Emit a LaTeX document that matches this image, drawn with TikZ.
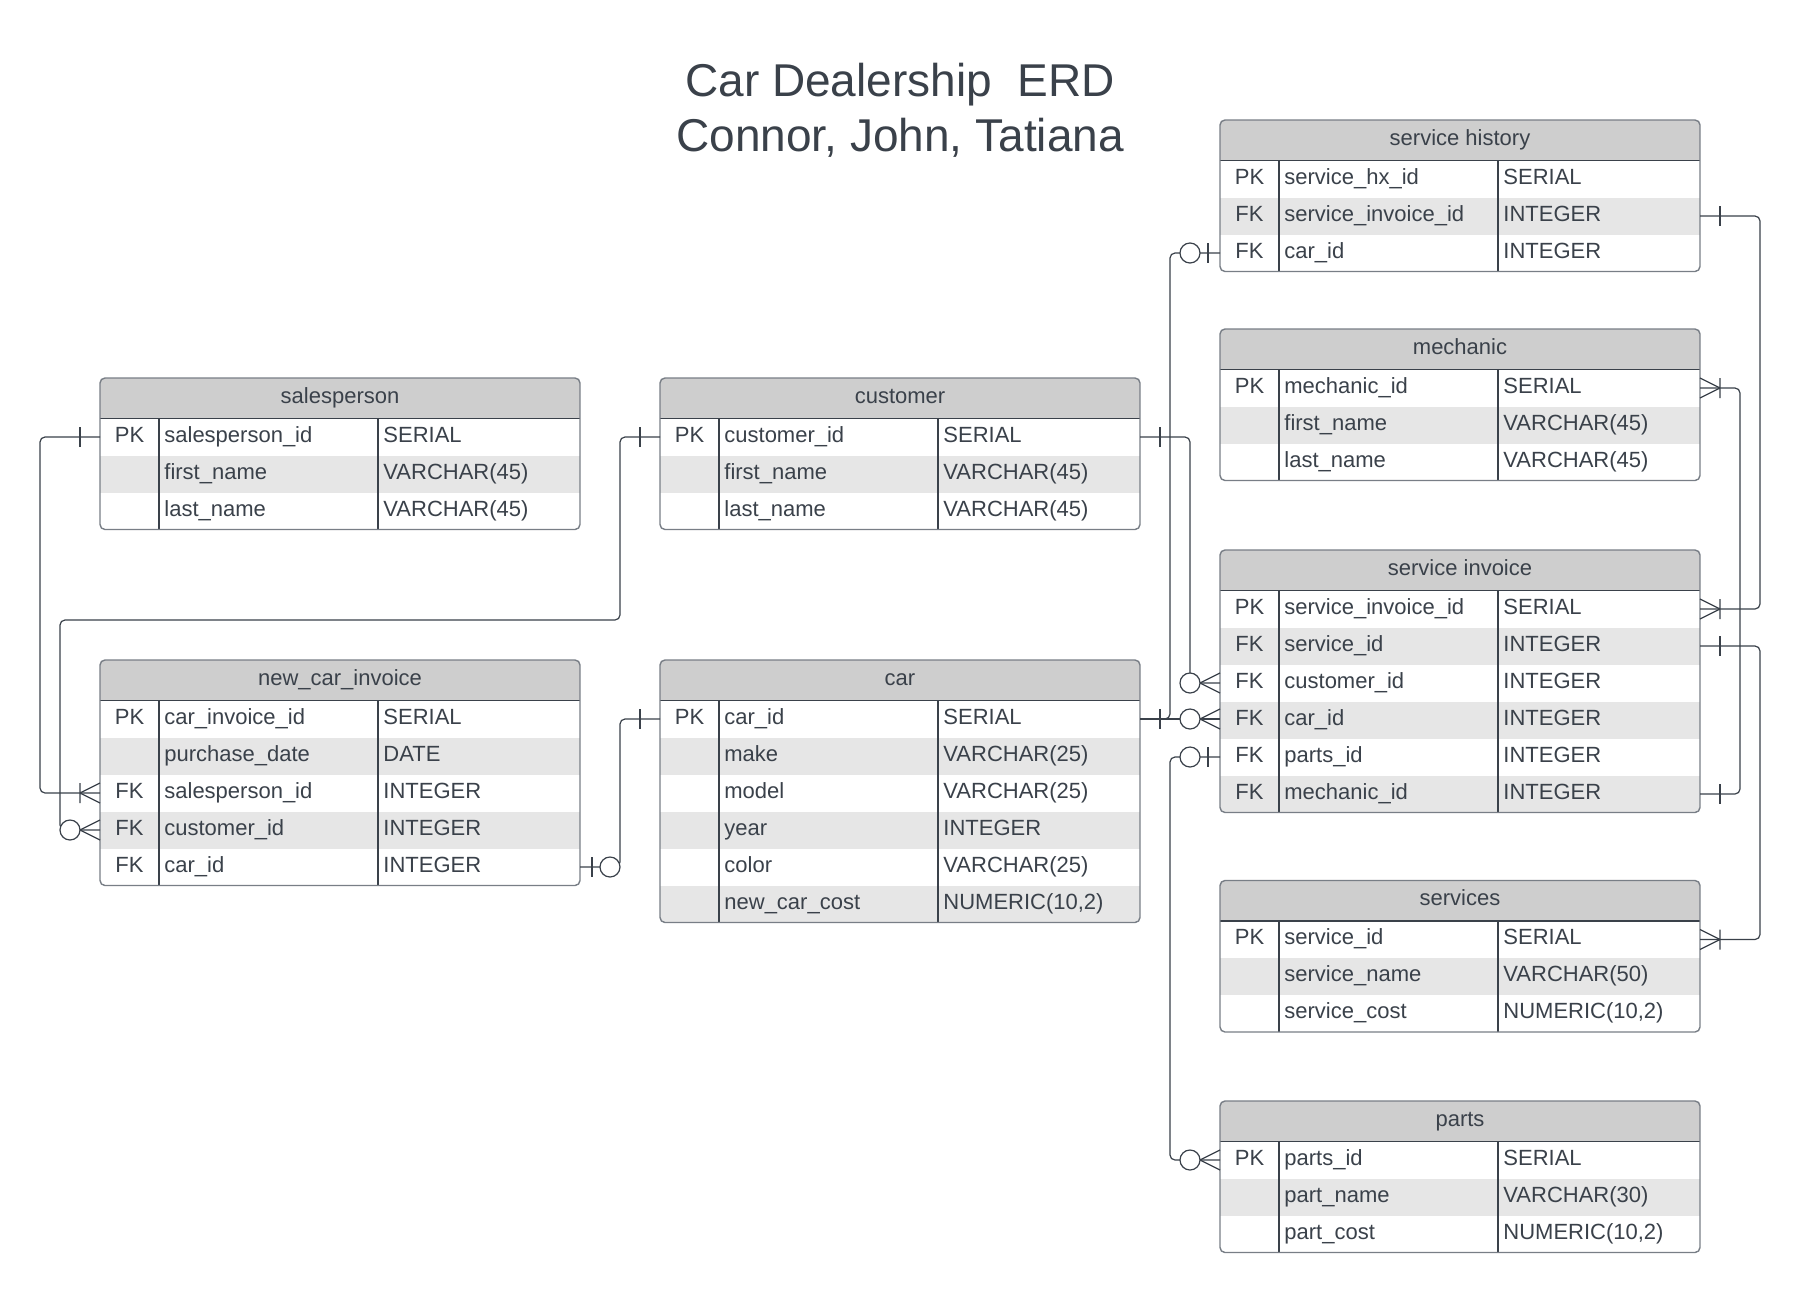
\documentclass[tikz,border=0pt]{standalone}
\usepackage{fontspec}
\setmainfont{Liberation Sans}
\usetikzlibrary{calc}

\definecolor{inkgray}{RGB}{58,65,74}
\definecolor{headgray}{RGB}{206,206,206}
\definecolor{rowgray}{RGB}{230,230,230}
\definecolor{edgegray}{RGB}{120,126,134}

% table: name, left, top, rows, title, fields
\newcommand{\erdtable}[6]{%
  \begin{scope}
    \clip[rounded corners=2.5pt] (#2,#3) rectangle ++(480,{40.5+37*#4});
    \node[head node] (#1-h) at (#2,#3) {};
    \node[cell text, anchor=base] (#1-title) at ([yshift=-2.6pt]#1-h.center) {#5};
    \foreach \k/\n/\t [count=\i] in {#6} {
      \ifodd\i\relax\def\rowcol{white}\else\def\rowcol{rowgray}\fi
      \node[row node, fill=\rowcol] (#1-\i) at (#2,{#3+40.5+37*(\i-1)}) {};
      \node[cell text, anchor=base] (#1-\i-key) at ([xshift=14.75pt,yshift=-2.6pt]#1-\i.west) {\k};
      \node[cell text, anchor=base west] (#1-\i-name) at ([xshift=32pt,yshift=-2.6pt]#1-\i.west) {\n};
      \node[cell text, anchor=base west] (#1-\i-type) at ([xshift=141.5pt,yshift=-2.6pt]#1-\i.west) {\t};
    }
  \end{scope}
  \draw[inner line] (#1-h.south west) -- (#1-h.south east);
  \draw[inner line] ([xshift=29.5pt]#1-1.north west) -- ([xshift=29.5pt]#1-#4.south west);
  \draw[inner line] ([xshift=139pt]#1-1.north west) -- ([xshift=139pt]#1-#4.south west);
  \draw[table edge] (#2,#3) rectangle ++(480,{40.5+37*#4});
}

\begin{document}
\begin{tikzpicture}[x=0.5pt, y=-0.5pt,
  head node/.style={anchor=north west, fill=headgray, inner sep=0pt, outer sep=0pt,
    minimum width=240pt, minimum height=20.25pt},
  row node/.style={anchor=north west, inner sep=0pt, outer sep=0pt, minimum width=240pt, minimum height=18.5pt},
  cell text/.style={inner sep=0pt, text=inkgray, font=\fontsize{11}{13}\selectfont},
  title text/.style={anchor=base, text=inkgray, inner sep=0pt, font=\fontsize{23}{27}\selectfont},
  inner line/.style={draw=inkgray, line width=0.6pt},
  table edge/.style={draw=edgegray, line width=0.7pt, rounded corners=2.5pt},
  link/.style={draw=inkgray, line width=0.6pt, rounded corners=2.5pt},
  one end/.pic={\draw[link] (-20,-10) -- (-20,10);},
  one many end/.pic={\draw[link] (-20,-10) -- (-20,10) (-20,0) -- (0,-10) (-20,0) -- (0,10);},
  zero many end/.pic={\draw[link] (-20,0) -- (0,-10) (-20,0) -- (0,10);
    \draw[link, fill=white] (-30,0) circle[radius=10];},
  zero one end/.pic={\draw[link] (-12,-10) -- (-12,10);
    \draw[link, fill=white] (-30,0) circle[radius=10];}]
\path[use as bounding box, fill=white] (0,0) rectangle (1800,1291);

% title
\node[title text] (title1) at (900,96) {Car Dealership\ \ ERD};
\node[title text] (title2) at (900,151) {Connor, John, Tatiana};

% sales side
\erdtable{sp}{100}{378}{3}{salesperson}{PK/salesperson\_id/SERIAL, /first\_name/VARCHAR(45), /last\_name/VARCHAR(45)}
\erdtable{cu}{660}{378}{3}{customer}{PK/customer\_id/SERIAL, /first\_name/VARCHAR(45), /last\_name/VARCHAR(45)}
\erdtable{nci}{100}{660}{5}{new\_car\_invoice}{PK/car\_invoice\_id/SERIAL, /purchase\_date/DATE, FK/salesperson\_id/INTEGER, FK/customer\_id/INTEGER, FK/car\_id/INTEGER}
\erdtable{car}{660}{660}{6}{car}{PK/car\_id/SERIAL, /make/VARCHAR(25), /model/VARCHAR(25), /year/INTEGER, /color/VARCHAR(25), /new\_car\_cost/{NUMERIC(10,2)}}

% service side
\erdtable{sh}{1220}{120}{3}{service history}{PK/service\_hx\_id/SERIAL, FK/service\_invoice\_id/INTEGER, FK/car\_id/INTEGER}
\erdtable{mech}{1220}{329}{3}{mechanic}{PK/mechanic\_id/SERIAL, /first\_name/VARCHAR(45), /last\_name/VARCHAR(45)}
\erdtable{si}{1220}{550}{6}{service invoice}{PK/service\_invoice\_id/SERIAL, FK/service\_id/INTEGER, FK/customer\_id/INTEGER, FK/car\_id/INTEGER, FK/parts\_id/INTEGER, FK/mechanic\_id/INTEGER}
\erdtable{sv}{1220}{880.5}{3}{services}{PK/service\_id/SERIAL, /service\_name/VARCHAR(50), /service\_cost/{NUMERIC(10,2)}}
\erdtable{pt}{1220}{1101}{3}{parts}{PK/parts\_id/SERIAL, /part\_name/VARCHAR(30), /part\_cost/{NUMERIC(10,2)}}

% links, left
\draw[link] (sp-1.west) -- ++(-60,0) |- (nci-3.west);
\draw[link] (cu-1.west) -- ++(-40,0) |- (60,620) |- (nci-4.west);
\draw[link] (car-1.west) -- ++(-40,0) |- (nci-5.east);
\pic at (sp-1.west) {one end};
\pic at (nci-3.west) {one many end};
\pic at (cu-1.west) {one end};
\pic at (nci-4.west) {zero many end};
\pic at (car-1.west) {one end};
\pic[xscale=-1] at (nci-5.east) {zero one end};

% links, middle
\draw[link] (car-1.east) -- ++(30,0) |- (sh-3.west);
\draw[link] (car-1.east) -- (car-1.east -| si-4.west);
\draw[link] (cu-1.east) -- ++(50,0) |- (si-3.west);
\draw[link] (si-5.west) -- ++(-50,0) |- (pt-1.west);
\pic[xscale=-1] at (car-1.east) {one end};
\pic[xscale=-1] at (cu-1.east) {one end};
\pic at (sh-3.west) {zero one end};
\pic at (car-1.east -| si-4.west) {zero many end};
\pic at (si-3.west) {zero many end};
\pic at (si-5.west) {zero one end};
\pic at (pt-1.west) {zero many end};

% links, right
\draw[link] (sh-2.east) -- ++(60,0) |- (si-1.east);
\draw[link] (mech-1.east) -- ++(40,0) |- (si-6.east);
\draw[link] (si-2.east) -- ++(60,0) |- (sv-1.east);
\pic[xscale=-1] at (sh-2.east) {one end};
\pic[xscale=-1] at (si-1.east) {one many end};
\pic[xscale=-1] at (mech-1.east) {one many end};
\pic[xscale=-1] at (si-6.east) {one end};
\pic[xscale=-1] at (si-2.east) {one end};
\pic[xscale=-1] at (sv-1.east) {one many end};
\end{tikzpicture}
\end{document}
